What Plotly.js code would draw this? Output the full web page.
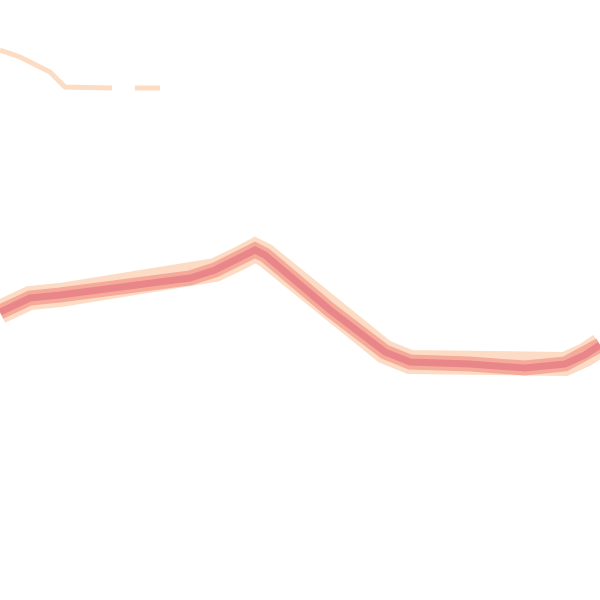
<!DOCTYPE html>
<html>
<head>
<meta charset="utf-8">
<script src="https://cdn.plot.ly/plotly-3.0.1.min.js"></script>
<style>body{margin:0;background:#fff}#plot{width:600px;height:600px}</style>
</head>
<body>
<div id="plot"></div>
<script>
// main trace
var mainX = [0, 15, 30, 60, 100, 140, 190, 215, 240, 255, 265, 280, 330, 385, 410, 470, 525, 565, 585, 600];
var mainY = [312, 305, 298, 295, 290, 285, 278, 270, 258, 250, 255, 268, 310, 352, 362, 364, 368, 364, 355, 345];

// faint trace at the top left
var faintX = [0, 20, 50, 65, 112, null, 135, 160];
var faintY = [50, 57, 72, 87, 88, null, 88, 88];

var glow = {
    x: mainX, y: mainY, mode: 'lines', type: 'scatter',
    line: { color: '#fddcc6', width: 24 }, hoverinfo: 'skip', showlegend: false
};
var halo = {
    x: mainX, y: mainY, mode: 'lines', type: 'scatter',
    line: { color: '#f6ab9a', width: 15 }, hoverinfo: 'skip', showlegend: false
};
var core = {
    x: mainX, y: mainY, mode: 'lines', type: 'scatter',
    line: { color: '#e9868a', width: 7 }, showlegend: false
};
var faint = {
    x: faintX, y: faintY, mode: 'lines', type: 'scatter', connectgaps: false,
    line: { color: '#fddcc4', width: 5 }, showlegend: false
};

var layout = {
    width: 600, height: 600,
    margin: { l: 0, r: 0, t: 0, b: 0 },
    paper_bgcolor: '#ffffff', plot_bgcolor: '#ffffff',
    xaxis: { range: [0, 600], visible: false, fixedrange: true },
    yaxis: { range: [600, 0], visible: false, fixedrange: true }
};

Plotly.newPlot('plot', [faint, glow, halo, core], layout, { displayModeBar: false, staticPlot: true });
</script>
</body>
</html>
